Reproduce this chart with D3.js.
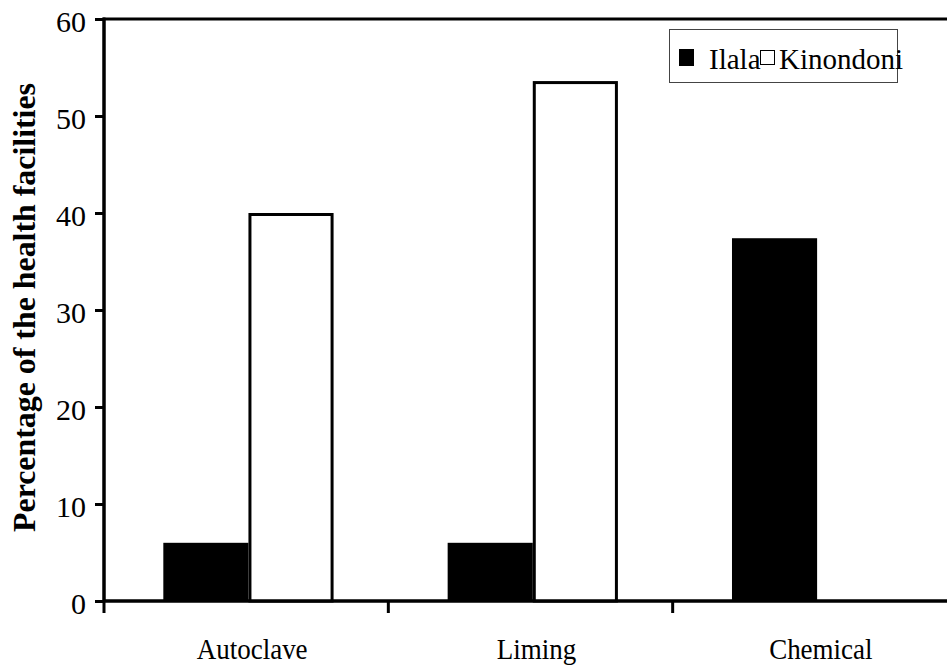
<!DOCTYPE html>
<html>
<head>
<meta charset="utf-8">
<script src="https://cdn.jsdelivr.net/npm/d3@7"></script>
<style>
  html, body { margin: 0; padding: 0; background: #fff; }
  svg { display: block; }
  text { font-family: "Liberation Serif", "Times New Roman", serif; fill: #000; }
</style>
</head>
<body>
<script>
const categories = ["Autoclave", "Liming", "Chemical"];
const seriesNames = ["Ilala", "Kinondoni"];
const ilala = [6, 6, 37.4];
const kinondoni = [40, 53.6, 0];
const yTicks = [0, 10, 20, 30, 40, 50, 60];
const yTitle = "Percentage of the health facilities";

const W = 947, H = 666;
const svg = d3.select("body").append("svg").attr("width", W).attr("height", H);

const x0 = 104, x1 = 957, yTop = 19, yBot = 601;
const x = d3.scaleBand().domain(categories).range([x0, x1]).paddingInner(0).paddingOuter(0);
const xs = d3.scaleBand().domain(seriesNames).range([0, x.bandwidth()])
  .paddingInner(0).paddingOuter(0.67).align(0.52);
const y = d3.scaleLinear().domain([0, 60]).range([yBot, yTop]);

const data = categories.map((c, i) => ({ cat: c, vals: [ilala[i], kinondoni[i]] }));

// frame (top line, right side beyond canvas)
svg.append("rect")
  .attr("x", x0).attr("y", yTop)
  .attr("width", x1 - x0).attr("height", yBot - yTop)
  .attr("fill", "none").attr("stroke", "#000").attr("stroke-width", 3);

// bars
const g = svg.append("g");
data.forEach(d => {
  d.vals.forEach((v, j) => {
    if (v <= 0) return;
    const bx = x(d.cat) + xs(seriesNames[j]);
    const r = g.append("rect")
      .attr("x", bx)
      .attr("y", y(v))
      .attr("width", xs.bandwidth())
      .attr("height", y(0) - y(v));
    if (j === 0) {
      r.attr("fill", "#000");
    } else {
      r.attr("fill", "#fff").attr("stroke", "#000").attr("stroke-width", 3)
       .attr("x", bx + 1.5).attr("width", xs.bandwidth() - 3)
       .attr("y", y(v) + 1.5).attr("height", y(0) - y(v) - 1.5);
    }
  });
});

// y axis
const yAxis = d3.axisLeft(y).tickValues(yTicks).tickSize(9).tickSizeOuter(0).tickPadding(9);
const ya = svg.append("g").attr("transform", `translate(${x0},0)`).call(yAxis);
ya.select(".domain").remove();
ya.selectAll(".tick line").attr("stroke", "#000").attr("stroke-width", 3);
ya.selectAll(".tick text")
  .style("font-family", "'Liberation Serif', 'Times New Roman', serif")
  .style("font-size", "30px").attr("dy", "0.42em").attr("fill", "#000");
svg.append("line").attr("x1", x0).attr("x2", x0).attr("y1", yTop - 1.5).attr("y2", yBot + 12)
  .attr("stroke", "#000").attr("stroke-width", 3);

// x axis
svg.append("line").attr("x1", x0).attr("x2", x1).attr("y1", yBot).attr("y2", yBot)
  .attr("stroke", "#000").attr("stroke-width", 3);
const boundaries = categories.slice(1).map(c => x(c));
svg.selectAll(".xtick").data(boundaries).enter().append("line")
  .attr("x1", d => d).attr("x2", d => d)
  .attr("y1", yBot).attr("y2", yBot + 12)
  .attr("stroke", "#000").attr("stroke-width", 3);
svg.selectAll(".xlab").data(categories).enter().append("text")
  .attr("transform", d => `translate(${x(d) + x.bandwidth() / 2 + 6},659) scale(0.9,1)`)
  .attr("text-anchor", "middle")
  .style("font-size", "30px")
  .text(d => d);

// y title
svg.append("text")
  .attr("transform", `translate(35,${(83 + 532) / 2}) rotate(-90)`)
  .attr("text-anchor", "middle")
  .style("font-size", "31px")
  .attr("font-weight", "bold")
  .attr("textLength", 449)
  .attr("lengthAdjust", "spacingAndGlyphs")
  .text(yTitle);

// legend
const lg = svg.append("g");
lg.append("rect").attr("x", 669.5).attr("y", 29.5).attr("width", 228).attr("height", 53)
  .attr("fill", "#fff").attr("stroke", "#444").attr("stroke-width", 1);
lg.append("rect").attr("x", 679).attr("y", 49).attr("width", 15).attr("height", 17).attr("fill", "#000");
lg.append("text").attr("x", 709).attr("y", 69).style("font-size", "29px").text(seriesNames[0]);
lg.append("rect").attr("x", 760.5).attr("y", 50.5).attr("width", 14).attr("height", 14)
  .attr("fill", "#fff").attr("stroke", "#000").attr("stroke-width", 1);
lg.append("text").attr("x", 779).attr("y", 69).style("font-size", "29px").text(seriesNames[1]);
</script>
</body>
</html>
